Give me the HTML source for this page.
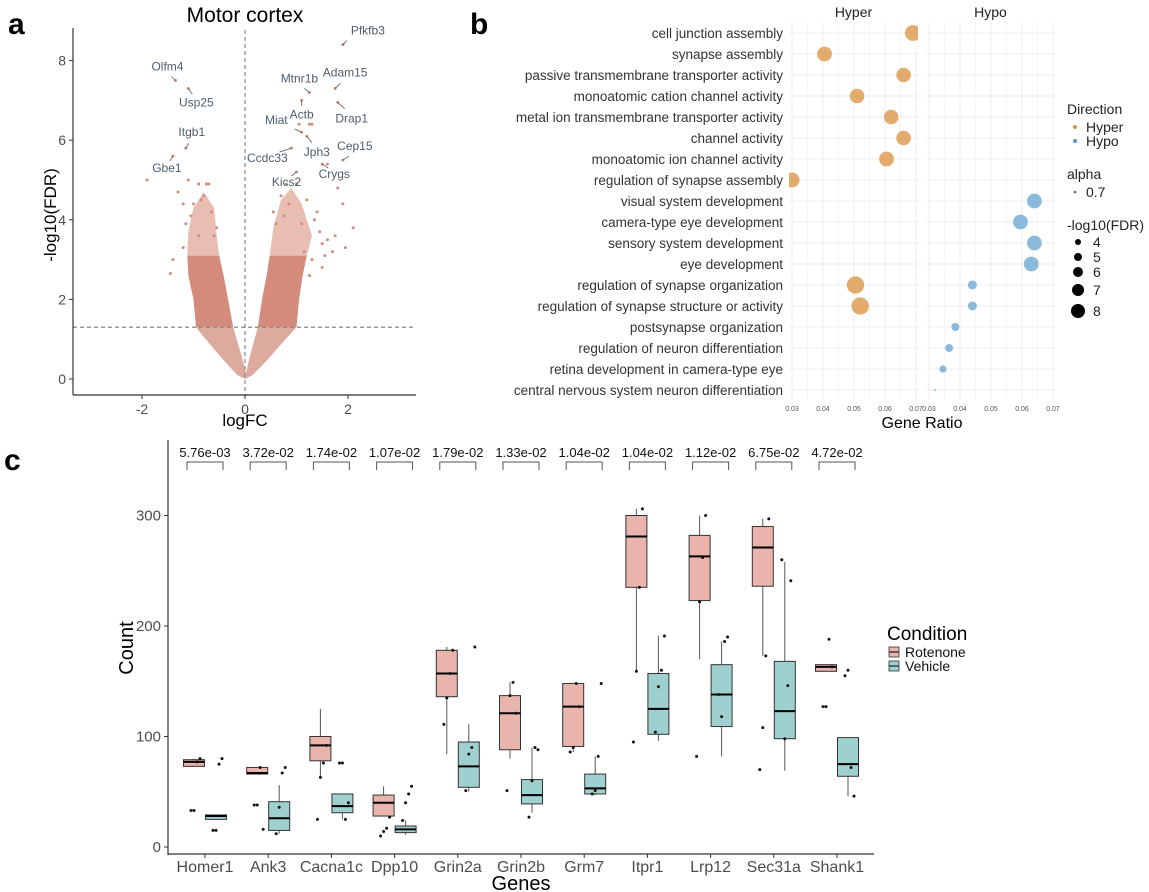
<!DOCTYPE html>
<html><head><meta charset="utf-8"><style>
html,body{margin:0;padding:0;background:#fff;}
svg{display:block;font-family:"Liberation Sans",Arial,sans-serif;}
</style></head><body>
<svg id="fig" width="1149" height="892" viewBox="0 0 1149 892" xmlns="http://www.w3.org/2000/svg">
<g id="pa"></g>
<g id="pb"></g>
<g id="pc"></g>
</svg>
<script>
// ===== Panel a data =====
const volcLabels=["Pfkfb3","Olfm4","Usp25","Mtnr1b","Adam15","Actb","Drap1","Miat","Jph3","Itgb1","Gbe1","Ccdc33","Cep15","Crygs","Kics2"];
const volcLabelFC=[1.9,-1.35,-1.1,1.25,1.75,1.1,1.8,1.1,1.2,-1.15,-1.4,0.9,1.9,1.5,1.0];
const volcLabelFDR=[8.4,7.5,7.3,7.2,7.3,7.0,6.95,6.2,6.1,5.8,5.6,5.8,5.5,5.4,5.2];
const volcOutFC=[-1.9,-1.3,-1.1,-0.9,-0.7,-1.4,-1.45,-1.2,-0.75,-0.65,1.25,1.05,1.3,1.6,1.8,1.95,2.1,1.55,1.75,1.4,0.8,0.9,1.0,1.2,1.45,1.7,1.9,0.75,1.1,1.35,1.5,-0.85,-1.05,-0.6,1.15,0.95,-1.15,-1.0,-0.8,-0.55,-1.2,-0.9,0.6,0.7,1.25,1.3,1.5,1.6,0.55,0.85];
const volcOutFDR=[5.0,4.7,5.0,4.9,4.9,3.0,2.65,4.4,4.9,4.2,6.4,6.4,6.4,5.4,4.8,3.3,3.8,3.1,3.6,4.2,4.9,5.8,4.9,4.5,3.7,3.2,4.4,4.1,3.9,4.0,3.4,4.5,4.1,3.6,3.2,3.0,3.9,4.4,4.6,3.8,3.3,3.6,3.9,4.6,2.6,3.0,2.8,3.5,4.2,4.4];
const volcLightPoly=[[-0.95,1.3],[-0.7,0.9],[-0.4,0.45],[-0.15,0.1],[0,0],[0.15,0.1],[0.45,0.5],[0.75,0.95],[1.0,1.3],[0.25,1.3],[0.1,0.6],[0.02,0.15],[-0.05,0.5],[-0.23,1.3]];
const volcDarkL=[[-0.95,1.3],[-1.0,2.0],[-1.1,2.6],[-1.12,3.1],[-0.5,3.1],[-0.4,2.5],[-0.3,1.8],[-0.23,1.3]];
const volcDarkR=[[0.25,1.3],[0.33,2.0],[0.42,2.6],[0.48,3.1],[1.2,3.1],[1.12,2.6],[1.05,2.0],[1.0,1.3]];
const volcSparseL=[[-1.12,3.1],[-1.1,3.7],[-1.0,4.3],[-0.8,4.7],[-0.6,4.3],[-0.55,3.6],[-0.5,3.1]];
const volcSparseR=[[0.48,3.1],[0.55,3.8],[0.7,4.5],[0.9,4.8],[1.1,4.4],[1.3,3.6],[1.2,3.1]];
const volcXTicks=[-2,0,2];
const volcYTicks=[0,2,4,6,8];

// ===== Panel b data =====
const goTerms=["cell junction assembly","synapse assembly","passive transmembrane transporter activity","monoatomic cation channel activity","metal ion transmembrane transporter activity","channel activity","monoatomic ion channel activity","regulation of synapse assembly","visual system development","camera-type eye development","sensory system development","eye development","regulation of synapse organization","regulation of synapse structure or activity","postsynapse organization","regulation of neuron differentiation","retina development in camera-type eye","central nervous system neuron differentiation"];
const hyperRatio=[0.069,0.0405,0.066,0.051,0.062,0.066,0.0605,0.030,null,null,null,null,0.0505,0.052,null,null,null,null];
const hyperFDR=[8.9,8.4,8.3,8.3,8.3,8.3,8.4,8.5,null,null,null,null,9.7,9.7,null,null,null,null];
const hypoRatio=[null,null,null,null,null,null,null,null,0.064,0.0595,0.064,0.063,0.044,0.044,0.0385,0.0365,0.0345,0.032];
const hypoFDR=[null,null,null,null,null,null,null,null,8.4,8.4,8.4,8.4,5.5,5.5,5.0,5.0,4.6,2.0];
const ratioTicks=[0.03,0.04,0.05,0.06,0.07];
const sizeLegend=[4,5,6,7,8];

// ===== Panel c data =====
const genes=["Homer1","Ank3","Cacna1c","Dpp10","Grin2a","Grin2b","Grm7","Itpr1","Lrp12","Sec31a","Shank1"];
const pvals=["5.76e-03","3.72e-02","1.74e-02","1.07e-02","1.79e-02","1.33e-02","1.04e-02","1.04e-02","1.12e-02","6.75e-02","4.72e-02"];
// [whiskerLow, q1, median, q3, whiskerHigh]
const rotStats=[[73,73,77,79,80],[66,66,67,72,72],[63,78,92,100,125],[28,28,40,47,55],[84,136,157,178,181],[80,88,121,137,149],[86,91,127,148,148],[159,235,281,300,306],[170,223,263,282,300],[173,236,271,290,297],[159,159,163,165,165]];
const vehStats=[[25,25,28,29,29],[12,15,26,41,56],[25,31,37,48,48],[11,13,16,19,24],[50,54,73,95,111],[31,39,47,61,90],[47,48,53,66,82],[96,102,125,157,191],[82,109,138,165,186],[69,98,123,168,258],[46,64,75,99,99]];
const rotPts=[[33,33,77,80],[38,38,72,16],[25,63,76,92],[10,14,17,27],[111,135,157,178],[51,137,149,121],[86,90,148,127],[95,159,235,306],[82,222,262,300],[70,108,173,297],[127,127,188,163]];
const vehPts=[[15,15,75,80],[12,36,67,72],[76,76,25,40],[24,40,48,55],[51,84,90,181],[27,60,90,88],[48,51,82,148],[104,145,160,191],[138,118,186,190],[260,98,146,241],[155,160,72,46]];
const countTicks=[0,100,200,300];

const NS="http://www.w3.org/2000/svg";
function mk(parent,tag,attrs,text){const e=document.createElementNS(NS,tag);for(const k in attrs)e.setAttribute(k,attrs[k]);if(text!==undefined)e.textContent=text;parent.appendChild(e);return e;}
const fig=document.getElementById('fig');

[["a",8,34],["b",470,34],["c",4,470]].forEach(([t,x,y])=>{
  const e=mk(fig,'text',{x:x,y:y,'font-size':30,'font-weight':'bold',fill:'#000'},t);
  
  
});

// ===== Panel a =====
(function(){
const g=document.getElementById('pa');
const X=v=>245+v*51.5, Y=v=>379-v*39.8;
const poly=(pts)=>pts.map(p=>X(p[0])+','+Y(p[1])).join(' ');
let e=mk(g,'polygon',{points:poly(volcLightPoly),fill:'#dcaa9f'});


e=mk(g,'polygon',{points:poly(volcSparseL),fill:'#e8bdb2'});


e=mk(g,'polygon',{points:poly(volcSparseR),fill:'#e8bdb2'});


e=mk(g,'polygon',{points:poly(volcDarkL),fill:'#d48b7c'});


e=mk(g,'polygon',{points:poly(volcDarkR),fill:'#d48b7c'});


volcOutFC.forEach((v,i)=>{
  const c=mk(g,'circle',{cx:X(v),cy:Y(volcOutFDR[i]),r:1.5,fill:'#d48b7c'});
  
  
});
const offs=[[8,-10,'start'],[-8,-10,'middle'],[8,14,'middle'],[-10,-10,'middle'],[10,-12,'middle'],[0,14,'middle'],[14,16,'middle'],[-14,-8,'end'],[10,16,'middle'],[6,-12,'middle'],[-6,12,'middle'],[-24,10,'middle'],[12,-10,'middle'],[12,10,'middle'],[-10,10,'middle']];
volcLabels.forEach((t,i)=>{
  const x=X(volcLabelFC[i]),y=Y(volcLabelFDR[i]);
  const c=mk(g,'circle',{cx:x,cy:y,r:1.5,fill:'#d48b7c'});
  
  
  const o=offs[i];
  mk(g,'line',{x1:x,y1:y,x2:x+o[0]*0.5,y2:y+o[1]*0.4,stroke:'#4d5d6b','stroke-width':0.8});
  const tx=mk(g,'text',{x:x+o[0],y:y+o[1]+(o[1]>0?4:0),'font-size':12,fill:'#4d5d6b','text-anchor':o[2]},t);
  
  
});
mk(g,'line',{x1:X(0),y1:30,x2:X(0),y2:395,stroke:'#888','stroke-dasharray':'4,3','stroke-width':1.2});
mk(g,'line',{x1:73,y1:Y(1.3),x2:416,y2:Y(1.3),stroke:'#888','stroke-dasharray':'4,3','stroke-width':1.2});
mk(g,'line',{x1:73,y1:28,x2:73,y2:395,stroke:'#333','stroke-width':1.2});
mk(g,'line',{x1:73,y1:395,x2:416,y2:395,stroke:'#333','stroke-width':1.2});
volcXTicks.forEach(v=>{mk(g,'line',{x1:X(v),y1:395,x2:X(v),y2:399,stroke:'#333'});
  const t=mk(g,'text',{x:X(v),y:414,'font-size':14,fill:'#4d4d4d','text-anchor':'middle'},v);
  
  });
volcYTicks.forEach(v=>{mk(g,'line',{x1:69,y1:Y(v),x2:73,y2:Y(v),stroke:'#333'});
  const t=mk(g,'text',{x:66,y:Y(v)+5,'font-size':14,fill:'#4d4d4d','text-anchor':'end'},v);
  
  });
let t=mk(g,'text',{x:245,y:22,'font-size':21,fill:'#000','text-anchor':'middle'},'Motor cortex');

t=mk(g,'text',{x:245,y:426,'font-size':17,fill:'#000','text-anchor':'middle'},'logFC');

t=mk(g,'text',{x:0,y:0,'font-size':17,fill:'#000','text-anchor':'middle',transform:'translate(56,215) rotate(-90)'},'-log10(FDR)');

})();

// ===== Panel b =====
(function(){
const g=document.getElementById('pb');
const facets=[{x0:792,name:'Hyper',ratio:hyperRatio,fdr:hyperFDR,col:'#e0a35c'},{x0:929,name:'Hypo',ratio:hypoRatio,fdr:hypoFDR,col:'#7fb3d8'}];
const RY=i=>33+i*21;
const R=f=>Math.max(1,f-1);
facets.forEach((f,fi)=>{
  const X=v=>f.x0+(v-0.03)*3100;
  const L=X(0.03)-3,Rt=X(0.07)+2;
  for(let v=0.03;v<=0.0701;v+=0.005){mk(g,'line',{x1:X(v),y1:22,x2:X(v),y2:400,stroke:'#ececec','stroke-width':Math.round(v*1000)%10===0?1:0.5});}
  goTerms.forEach((_,i)=>mk(g,'line',{x1:L,y1:RY(i),x2:Rt,y2:RY(i),stroke:'#ececec','stroke-width':1}));
  ratioTicks.forEach(v=>{const t=mk(g,'text',{x:X(v),y:411,'font-size':7,fill:'#555','text-anchor':'middle'},v.toFixed(2));
    });
  const ft=mk(g,'text',{x:(L+Rt)/2,y:17,'font-size':14,fill:'#222','text-anchor':'middle'},f.name);
  
  const cp=mk(g,'clipPath',{id:'clip'+fi});mk(cp,'rect',{x:L,y:20,width:Rt-L,height:385});
  f.ratio.forEach((v,i)=>{if(v===null)return;
    const c=mk(g,'circle',{cx:X(v),cy:RY(i),r:R(f.fdr[i]),fill:f.col,'fill-opacity':0.9,'clip-path':'url(#clip'+fi+')'});
    });
});
goTerms.forEach((t,i)=>{const e=mk(g,'text',{x:783,y:RY(i)+5,'font-size':13.5,fill:'#333','text-anchor':'end'},t);
  });
let t=mk(g,'text',{x:922,y:428,'font-size':16,fill:'#000','text-anchor':'middle'},'Gene Ratio');

const lg=mk(g,'g',{});
mk(lg,'text',{x:1067,y:114,'font-size':14,fill:'#222'},'Direction');
mk(lg,'circle',{cx:1075,cy:127,r:2,fill:'#e0904a'});mk(lg,'text',{x:1086,y:132,'font-size':14,fill:'#222'},'Hyper');
mk(lg,'circle',{cx:1075,cy:141,r:2,fill:'#5b93c4'});mk(lg,'text',{x:1086,y:146,'font-size':14,fill:'#222'},'Hypo');
mk(lg,'text',{x:1067,y:179,'font-size':14,fill:'#222'},'alpha');
mk(lg,'circle',{cx:1075,cy:192,r:1.3,fill:'#666'});mk(lg,'text',{x:1086,y:197,'font-size':14,fill:'#222'},'0.7');
mk(lg,'text',{x:1067,y:230,'font-size':14,fill:'#222'},'-log10(FDR)');
const ly=[242,257,272,290,311];
sizeLegend.forEach((v,i)=>{mk(lg,'circle',{cx:1078,cy:ly[i],r:R(v),fill:'#000'});
  mk(lg,'text',{x:1093,y:ly[i]+5,'font-size':14,fill:'#222'},v);});
})();

// ===== Panel c =====
(function(){
const g=document.getElementById('pc');
const Y=v=>847-v*1.105, X=i=>205+i*63.2;
mk(g,'line',{x1:168,y1:440,x2:168,y2:855,stroke:'#333','stroke-width':1.2});
mk(g,'line',{x1:168,y1:854,x2:874,y2:854,stroke:'#333','stroke-width':1.2});
countTicks.forEach(v=>{mk(g,'line',{x1:164,y1:Y(v),x2:168,y2:Y(v),stroke:'#333'});
  const t=mk(g,'text',{x:161,y:Y(v)+5,'font-size':15,fill:'#4d4d4d','text-anchor':'end'},v);
  });
function box(cx,s,fill,name){
  const bg=mk(g,'g',{});
  mk(bg,'line',{x1:cx,y1:Y(s[0]),x2:cx,y2:Y(s[4]),stroke:'#555','stroke-width':1});
  mk(bg,'rect',{x:cx-10.5,y:Y(s[3]),width:21,height:Math.max(1,Y(s[1])-Y(s[3])),fill:fill,stroke:'#333','stroke-width':1});
  mk(bg,'line',{x1:cx-10.5,y1:Y(s[2]),x2:cx+10.5,y2:Y(s[2]),stroke:'#000','stroke-width':2});
}
genes.forEach((gn,i)=>{
  const cx=X(i);
  box(cx-11,rotStats[i],'#e8b4ab','rotenone-box');
  box(cx+11,vehStats[i],'#9ed0cf','vehicle-box');
  rotPts[i].forEach((v,k)=>{const p=mk(g,'circle',{cx:cx-14+k*3,cy:Y(v),r:1.5,fill:'#111'});
    });
  vehPts[i].forEach((v,k)=>{const p=mk(g,'circle',{cx:cx+8+k*3,cy:Y(v),r:1.5,fill:'#111'});
    });
  mk(g,'line',{x1:cx,y1:854,x2:cx,y2:858,stroke:'#333'});
  let t=mk(g,'text',{x:cx,y:872,'font-size':16,fill:'#4d4d4d','text-anchor':'middle'},gn);
  
  mk(g,'path',{d:`M${cx-18},470 V462 H${cx+18} V470`,fill:'none',stroke:'#555','stroke-width':1});
  t=mk(g,'text',{x:cx,y:457,'font-size':13,fill:'#111','text-anchor':'middle'},pvals[i]);
  
});
let t=mk(g,'text',{x:0,y:0,'font-size':20,fill:'#000','text-anchor':'middle',transform:'translate(133,648) rotate(-90)'},'Count');

t=mk(g,'text',{x:521,y:890,'font-size':20,fill:'#000','text-anchor':'middle'},'Genes');

const lg=mk(g,'g',{});
mk(lg,'text',{x:887,y:640,'font-size':19,fill:'#000'},'Condition');
[['Rotenone','#e8b4ab',652],['Vehicle','#9ed0cf',666]].forEach(([n,c,y])=>{
  mk(lg,'rect',{x:889,y:y-5,width:10,height:10,fill:c,stroke:'#333','stroke-width':0.8});
  mk(lg,'line',{x1:889,y1:y,x2:899,y2:y,stroke:'#000'});
  mk(lg,'text',{x:905,y:y+5,'font-size':14,fill:'#111'},n);
});
})();
</script>
</body></html>
